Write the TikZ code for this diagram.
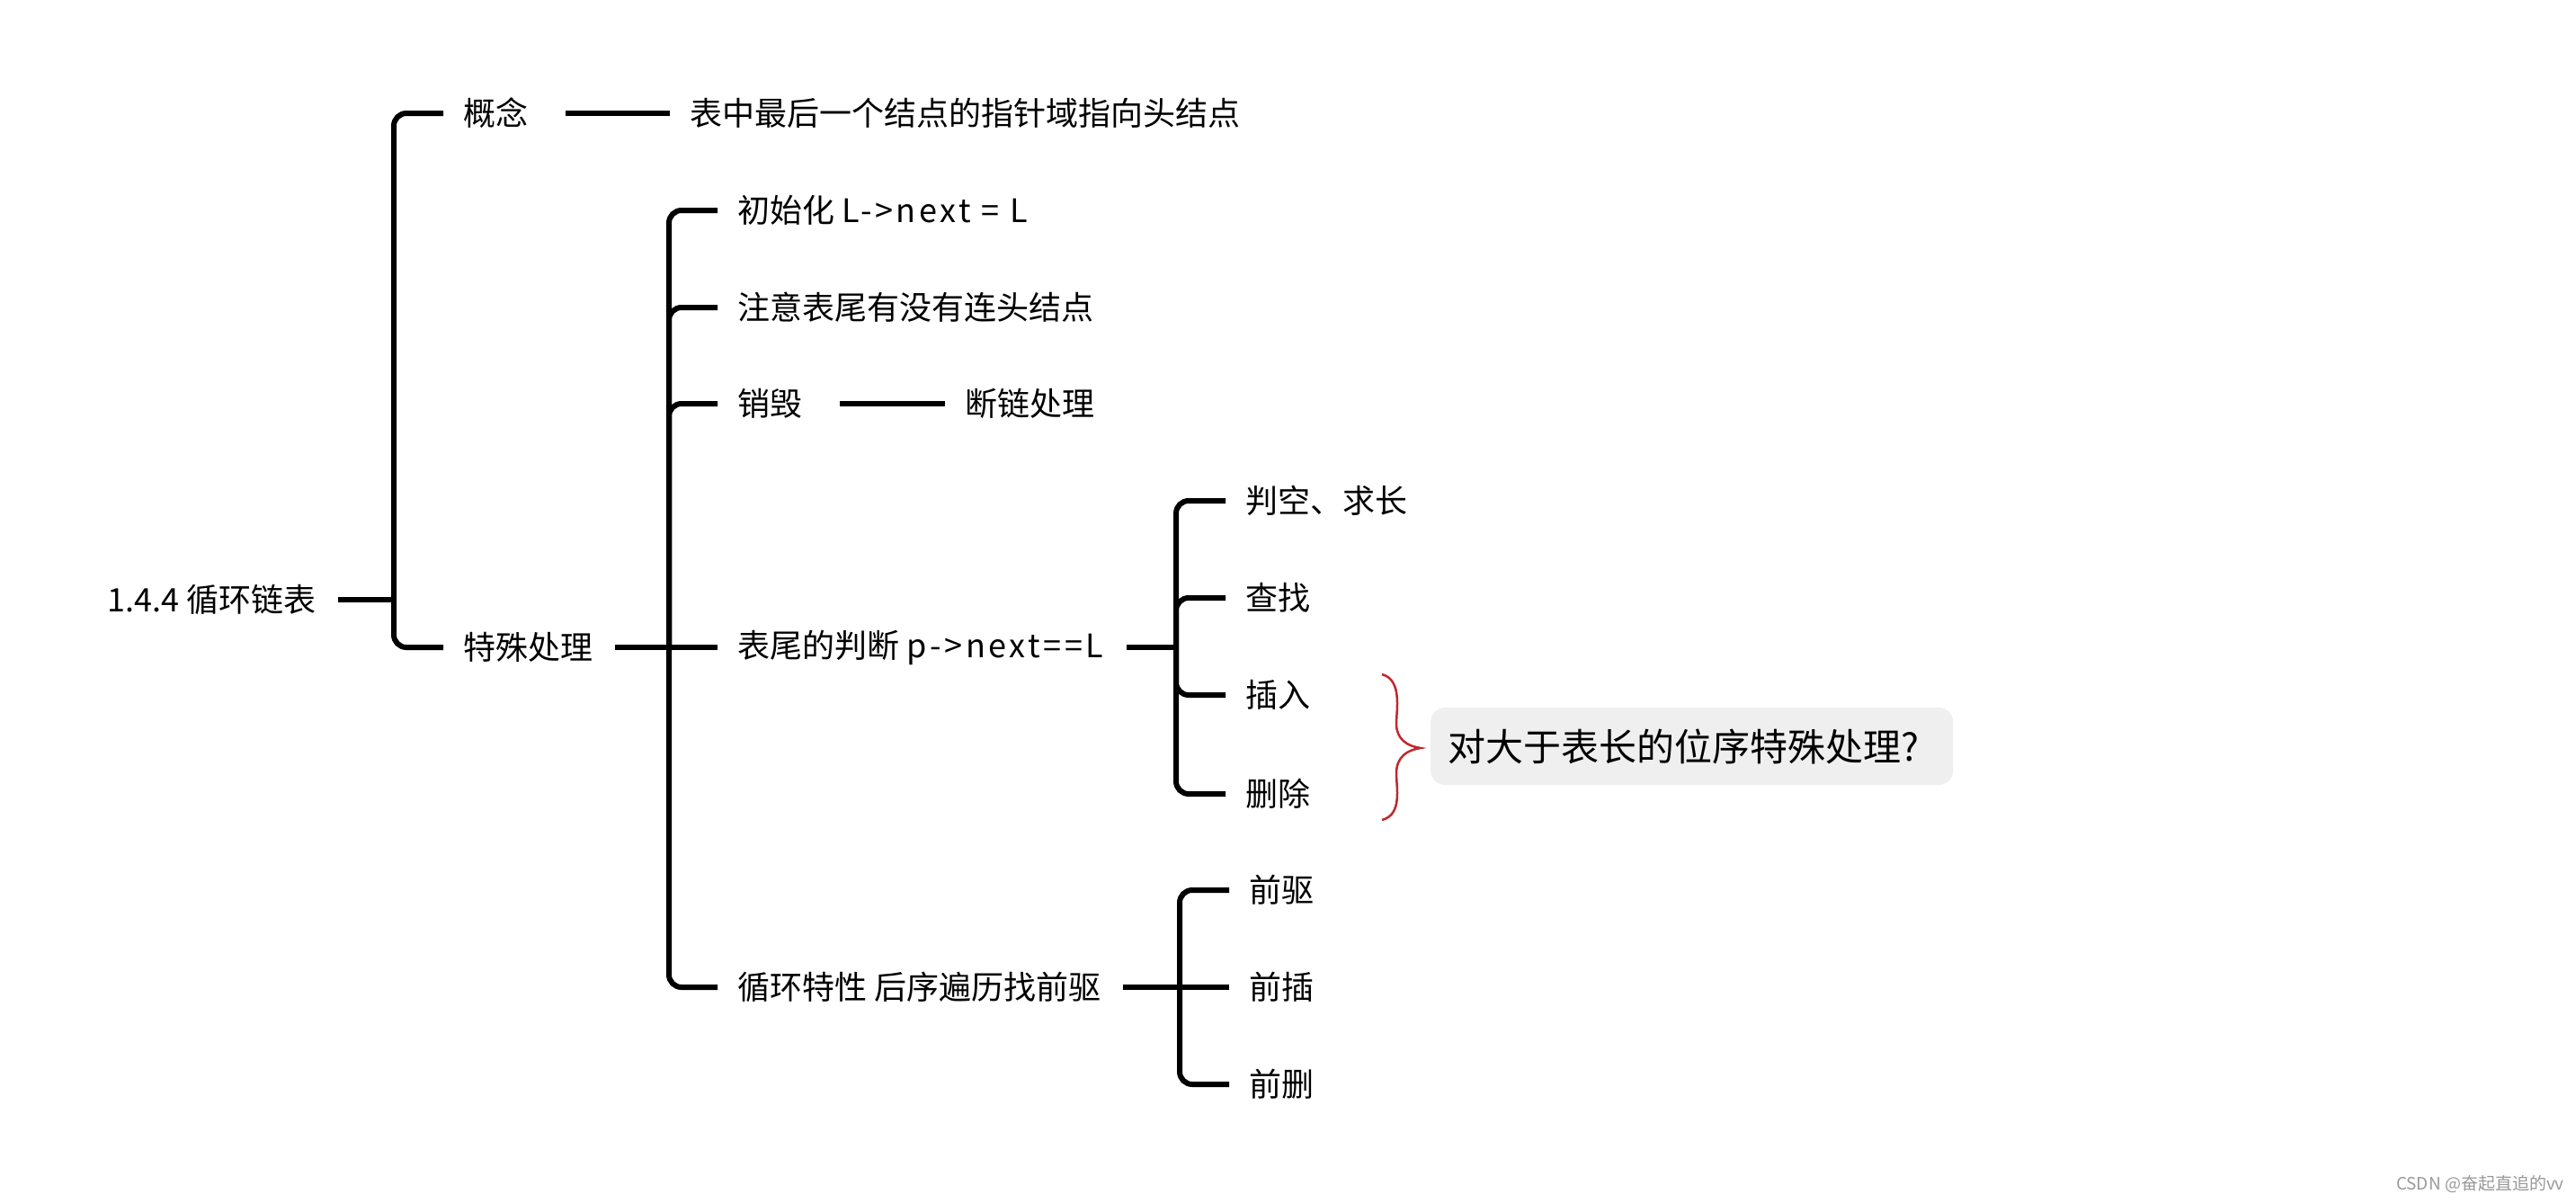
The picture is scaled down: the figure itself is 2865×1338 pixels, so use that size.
\documentclass[tikz,border=0pt]{standalone}
\usepackage{fontspec}
\setmainfont{Noto Sans CJK SC}
\newfontfamily\codefont{Noto Sans CJK SC}[LetterSpace=10]
\usetikzlibrary{calc}
\definecolor{boxgray}{HTML}{EFEFEF}
\definecolor{bracered}{HTML}{C0282D}
\begin{document}
\begin{tikzpicture}[x=1pt,y=-1pt,
  txt/.style={anchor=west,inner sep=0pt,font=\fontsize{36}{43}\selectfont},
  ln/.style={line width=6pt,black},
  br/.style={ln,rounded corners=14pt}]
\fill[white] (0,0) rectangle (2865,1338);
\useasboundingbox (0,0) rectangle (2865,1338);

% nodes
\node[txt] (root) at (119,667) {1.4.4 循环链表};
\node[txt] (gn)   at (515,126) {概念};
\node[txt] (gnd)  at (767,126) {表中最后一个结点的指针域指向头结点};
\node[txt] (ts)   at (515,720) {特殊处理};
\node[txt] (c1)   at (820,234) {初始化 {\codefont L->next = L}};
\node[txt] (c2)   at (820,342) {注意表尾有没有连头结点};
\node[txt] (c3)   at (820,449) {销毁};
\node[txt] (c3d)  at (1073,449) {断链处理};
\node[txt] (c4)   at (820,720) {表尾的判断 {\codefont p->next==L}};
\node[txt] (c5)   at (820,1098) {循环特性 后序遍历找前驱};
\node[txt] (d1)   at (1385,557) {判空、求长};
\node[txt] (d2)   at (1385,665) {查找};
\node[txt] (d3)   at (1385,773) {插入};
\node[txt] (d4)   at (1385,883) {删除};
\node[txt] (e1)   at (1389,990) {前驱};
\node[txt] (e2)   at (1389,1098) {前插};
\node[txt] (e3)   at (1389,1206) {前删};

% junctions
\coordinate (j1) at (438,667);
\coordinate (j2) at (744,720);
\coordinate (j3) at (1308,720);
\coordinate (j4) at (1312,1098);

% level 1
\draw[ln] ([xshift=25pt]root.east) -- (j1);
\draw[br] (j1) |- ([xshift=-22pt]gn.west);
\draw[br] (j1) |- ([xshift=-22pt]ts.west);
\draw[ln] ([xshift=42pt]gn.east) -- ([xshift=-22pt]gnd.west);

% level 2
\draw[ln] ([xshift=25pt]ts.east) -- (j2);
\draw[br] (j2) |- ([xshift=-22pt]c1.west);
\draw[br] (j2) |- ([xshift=-22pt]c2.west);
\draw[br] (j2) |- ([xshift=-22pt]c3.west);
\draw[ln] (j2) -- ([xshift=-22pt]c4.west);
\draw[br] (j2) |- ([xshift=-22pt]c5.west);
\draw[ln] ([xshift=42pt]c3.east) -- ([xshift=-22pt]c3d.west);

% level 3
\draw[ln] ([xshift=25pt]c4.east) -- (j3);
\draw[br] (j3) |- ([xshift=-22pt]d1.west);
\draw[br] (j3) |- ([xshift=-22pt]d2.west);
\draw[br] (j3) |- ([xshift=-22pt]d3.west);
\draw[br] (j3) |- ([xshift=-22pt]d4.west);

\draw[ln] ([xshift=25pt]c5.east) -- (j4);
\draw[br] (j4) |- ([xshift=-22pt]e1.west);
\draw[ln] (j4) -- ([xshift=-22pt]e2.west);
\draw[br] (j4) |- ([xshift=-22pt]e3.west);

% red brace
\draw[bracered,line width=2.5pt]
  (1537,750) .. controls (1560,756) and (1553,790) .. (1553,805)
  .. controls (1553,822) and (1565,830) .. (1580,832)
  .. controls (1565,834) and (1553,842) .. (1553,860)
  .. controls (1553,876) and (1560,906) .. (1537,912);

% note box
\node[anchor=west,fill=boxgray,rounded corners=16pt,inner xsep=19pt,inner ysep=0pt,
      minimum height=86pt,text width=543pt,align=left,
      font=\fontsize{42}{50}\selectfont] (note) at (1591,830) {对大于表长的位序特殊处理?};

% watermark
\node[anchor=east,inner sep=0pt,text=gray!80,font=\fontsize{19}{22}\selectfont] (wm) at (2852,1317) {CSDN @奋起直追的vv};
\end{tikzpicture}
\end{document}
